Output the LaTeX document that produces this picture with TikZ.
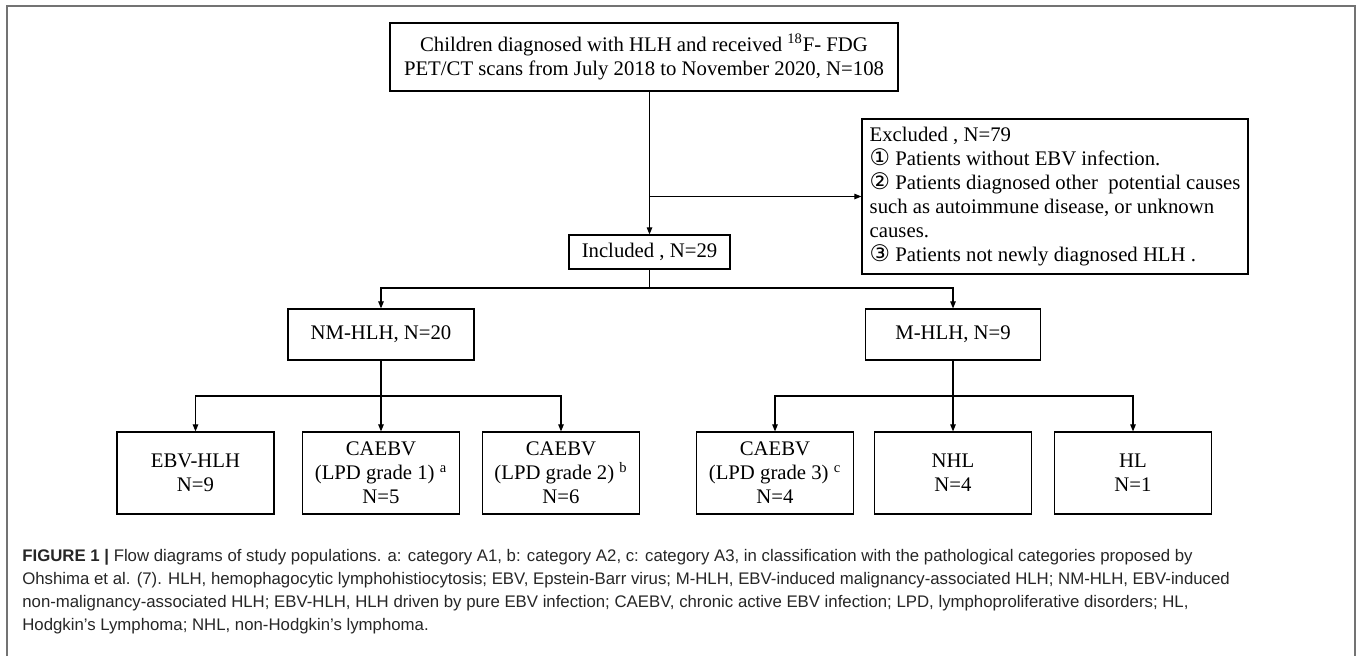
\documentclass[tikz,border=0pt]{standalone}
\usepackage{fontspec}
\setmainfont{Liberation Serif}
\newfontfamily\capfont{Liberation Sans}
\newfontfamily\circfont{DejaVu Sans}
\usetikzlibrary{arrows.meta}
\newcommand{\cnum}[1]{{\circfont\fontsize{13}{12}\selectfont #1}}

\begin{document}
\begin{tikzpicture}[
  box/.style={draw, line width=0.7pt, align=center, inner sep=0pt, font=\fontsize{11.8}{13.7}\selectfont},
  leaf/.style={box, minimum width=3.14cm, minimum height=1.64cm},
  link/.style={line width=0.6pt},
  arr/.style={link, -{Triangle[length=1.4mm,width=1.1mm]}},
  frame/.style={draw=black!55, line width=0.8pt}
]
\useasboundingbox (0,0) rectangle (27.14,-13.12);
\draw[frame] (0.14,-13.12) -- (0.14,-0.12) -- (27.10,-0.12) -- (27.10,-13.12);

\node[box, minimum width=10.16cm, minimum height=1.36cm] (start) at (12.88,-1.14) {Children diagnosed with HLH and received \textsuperscript{18}F- FDG\\PET/CT scans from July 2018 to November 2020, N=108};
\node[box, minimum width=7.72cm, minimum height=3.10cm, align=left] (excl) at (21.10,-3.93) {Excluded , N=79\\\cnum{①} Patients without EBV infection.\\\cnum{②} Patients diagnosed other\ \ potential causes\\such as autoimmune disease, or unknown\\causes.\\\cnum{③} Patients not newly diagnosed HLH .};
\node[box, minimum width=3.22cm, minimum height=0.68cm] (incl) at (12.99,-5.04) {Included , N=29};
\node[box, minimum width=3.72cm, minimum height=1.02cm] (nm) at (7.62,-6.69) {NM-HLH, N=20};
\node[box, minimum width=3.50cm, minimum height=1.02cm] (m) at (19.06,-6.69) {M-HLH, N=9};

\node[leaf] (ebv) at (3.91,-9.46) {EBV-HLH\\N=9};
\node[leaf] (ca1) at (7.62,-9.46) {CAEBV\\(LPD grade 1) \textsuperscript{a}\\N=5};
\node[leaf] (ca2) at (11.22,-9.46) {CAEBV\\(LPD grade 2) \textsuperscript{b}\\N=6};
\node[leaf] (ca3) at (15.50,-9.46) {CAEBV\\(LPD grade 3) \textsuperscript{c}\\N=4};
\node[leaf] (nhl) at (19.06,-9.46) {NHL\\N=4};
\node[leaf] (hl) at (22.66,-9.46) {HL\\N=1};

\coordinate (j0) at (12.99,-5.76);
\coordinate (j1) at (7.62,-7.92);
\coordinate (j2) at (19.06,-7.92);

\draw[arr] (incl.north |- start.south) -- (incl.north);
\draw[arr] (incl.north |- excl.west) -- (excl.west);
\draw[link] (incl) -- (j0);
\draw[arr] (j0) -| (nm);
\draw[arr] (j0) -| (m);
\draw[link] (nm) -- (j1);
\draw[arr] (j1) -| (ebv);
\draw[arr] (j1) -- (ca1);
\draw[arr] (j1) -| (ca2);
\draw[link] (m) -- (j2);
\draw[arr] (j2) -| (ca3);
\draw[arr] (j2) -- (nhl);
\draw[arr] (j2) -| (hl);

\node[anchor=north west, inner sep=0pt, align=left, text=black!85, font=\capfont\fontsize{9.55}{13.1}\selectfont] (cap) at (0.44,-10.98) {\textbf{FIGURE 1 |} Flow diagrams of study populations. a: category A1, b: category A2, c: category A3, in classification with the pathological categories proposed by\\Ohshima et al. (7). HLH, hemophagocytic lymphohistiocytosis; EBV, Epstein-Barr virus; M-HLH, EBV-induced malignancy-associated HLH; NM-HLH, EBV-induced\\non-malignancy-associated HLH; EBV-HLH, HLH driven by pure EBV infection; CAEBV, chronic active EBV infection; LPD, lymphoproliferative disorders; HL,\\Hodgkin’s Lymphoma; NHL, non-Hodgkin’s lymphoma.};
\end{tikzpicture}
\end{document}
